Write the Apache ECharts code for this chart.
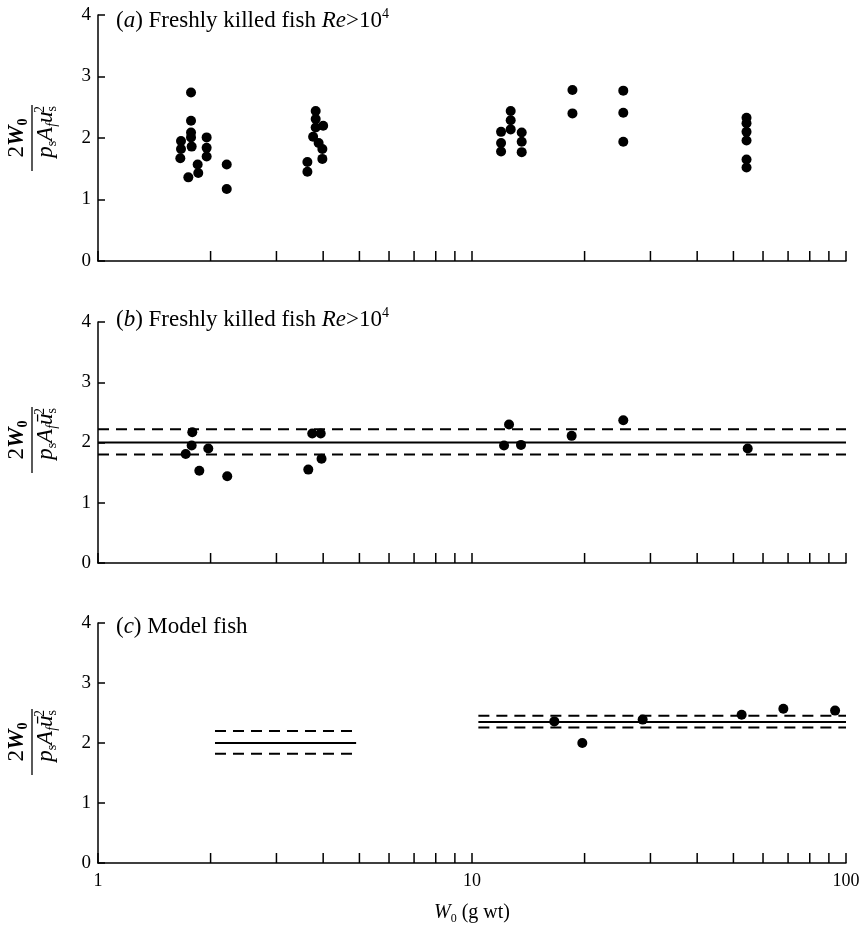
<!DOCTYPE html>
<html>
<head>
<meta charset="utf-8">
<script src="https://cdn.jsdelivr.net/npm/echarts@6/dist/echarts.min.js"></script>
<style>
  html, body { margin: 0; padding: 0; background: #fff; }
  #chart { width: 864px; height: 931px; }
</style>
</head>
<body>
<div id="chart"></div>
<script>
// (a) freshly killed fish, raw points
const aWeight = [1.773, 1.773, 1.773, 1.773, 1.78, 1.667, 1.667, 1.66, 1.744, 1.847, 1.854, 1.952, 1.952, 1.952, 2.209, 2.209,
  3.63, 3.63, 3.82, 3.82, 3.82, 4.0, 3.76, 3.89, 3.98, 3.98,
  11.96, 11.96, 11.96, 12.69, 12.69, 12.69, 13.58, 13.58, 13.58,
  18.56, 18.56, 25.38, 25.38, 25.38,
  54.2, 54.2, 54.2, 54.2, 54.2, 54.2];
const aRatio = [2.74, 2.28, 2.09, 2.01, 1.86, 1.95, 1.82, 1.67, 1.36, 1.57, 1.43, 2.01, 1.84, 1.70, 1.57, 1.17,
  1.61, 1.45, 2.44, 2.31, 2.17, 2.20, 2.02, 1.92, 1.82, 1.66,
  2.10, 1.92, 1.78, 2.44, 2.29, 2.14, 2.09, 1.94, 1.77,
  2.78, 2.40, 2.77, 2.41, 1.94,
  2.33, 2.24, 2.10, 1.96, 1.65, 1.52];

// (b) freshly killed fish, mean values
const bWeight = [1.716, 1.787, 1.78, 1.866, 1.972, 2.216, 3.65, 3.74, 3.94, 3.96, 12.56, 12.18, 13.52, 18.47, 25.38, 54.6];
const bRatio = [1.81, 2.17, 1.95, 1.53, 1.90, 1.44, 1.55, 2.15, 2.15, 1.73, 2.30, 1.95, 1.96, 2.11, 2.37, 1.90];
const bFitRange = [1, 100];
const bFitLevels = [2.22, 2.0, 1.8]; // upper, mean, lower

// (c) model fish
const cWeight = [16.6, 19.72, 28.6, 52.6, 68.0, 93.5];
const cRatio = [2.36, 2.00, 2.39, 2.47, 2.57, 2.54];
const cLeftRange = [2.055, 4.9];
const cLeftLevels = [2.2, 2.0, 1.82];
const cRightRange = [10.4, 100];
const cRightLevels = [2.455, 2.35, 2.26];

const xTickLabels = [1, 10, 100];
const minorTicks = [2, 3, 4, 5, 6, 7, 8, 9, 20, 30, 40, 50, 60, 70, 80, 90];

const serif = "'Liberation Serif', 'Times New Roman', serif";
const chart = echarts.init(document.getElementById('chart'));

const pts = (xs, ys) => xs.map((x, i) => [x, ys[i]]);
const level = (range, y) => range.map(x => [x, y]);

const grids = [
  { left: 98, width: 748, top: 15, height: 246 },
  { left: 98, width: 748, top: 322, height: 241 },
  { left: 98, width: 748, top: 623, height: 240 }
];

const xAxes = grids.map((g, i) => ({
  type: 'log', logBase: 10, min: 1, max: 100, gridIndex: i,
  axisLine: { show: true, onZero: false, lineStyle: { color: '#000', width: 1.5 } },
  axisTick: { show: true, inside: true, length: 10, lineStyle: { color: '#000', width: 1.5 } },
  axisLabel: {
    show: i === 2, margin: 9, color: '#000', fontSize: 18, fontFamily: serif,
    formatter: v => (xTickLabels.indexOf(Math.round(v)) >= 0 ? String(Math.round(v)) : '')
  },
  splitLine: { show: false },
  name: i === 2 ? '{i|W}{sub|0}{n| (g wt)}' : '',
  nameLocation: 'middle', nameGap: 38,
  nameTextStyle: {
    rich: {
      i: { fontFamily: serif, fontStyle: 'italic', fontSize: 20, color: '#000', lineHeight: 24 },
      n: { fontFamily: serif, fontSize: 20, color: '#000', lineHeight: 24 },
      sub: { fontFamily: serif, fontSize: 12, color: '#000', lineHeight: 12, verticalAlign: 'bottom' }
    }
  }
}));

const yAxes = grids.map((g, i) => ({
  type: 'value', min: 0, max: 4, interval: 1, gridIndex: i,
  axisLine: { show: true, lineStyle: { color: '#000', width: 1.5 } },
  axisTick: { show: true, inside: true, length: 7, lineStyle: { color: '#000', width: 1.5 } },
  axisLabel: { margin: 7, color: '#000', fontSize: 19, fontFamily: serif },
  splitLine: { show: false }
}));

function tickSeries(i) {
  return {
    type: 'custom', xAxisIndex: i, yAxisIndex: i, silent: true, clip: false,
    data: minorTicks.map(v => [v, 0]),
    renderItem: (params, api) => {
      const p = api.coord([api.value(0), 0]);
      return {
        type: 'line',
        shape: { x1: p[0], y1: p[1], x2: p[0], y2: p[1] - 10 },
        style: { stroke: '#000', lineWidth: 1.5 }
      };
    }
  };
}

function scatter(i, data) {
  return {
    type: 'scatter', xAxisIndex: i, yAxisIndex: i, data: data,
    symbol: 'circle', symbolSize: 10, itemStyle: { color: '#000', opacity: 1 }, silent: true
  };
}

function fitLines(i, range, levels) {
  return levels.map((y, k) => ({
    type: 'line', xAxisIndex: i, yAxisIndex: i, data: level(range, y),
    symbol: 'none', silent: true,
    lineStyle: { color: '#000', width: 2, type: k === 1 ? 'solid' : [11, 7] }
  }));
}

const fracRich = {
  n: { fontFamily: serif, fontSize: 23, color: '#000', lineHeight: 26 },
  i: { fontFamily: serif, fontSize: 23, fontStyle: 'italic', color: '#000', lineHeight: 26 },
  ib: { fontFamily: serif, fontSize: 23, fontStyle: 'italic', fontWeight: 'bold', color: '#000', lineHeight: 26 },
  sub: { fontFamily: serif, fontSize: 14, color: '#000', lineHeight: 13, verticalAlign: 'bottom' },
  subb: { fontFamily: serif, fontSize: 14, fontWeight: 'bold', color: '#000', lineHeight: 13, verticalAlign: 'bottom' },
  subi: { fontFamily: serif, fontSize: 14, fontStyle: 'italic', color: '#000', lineHeight: 13, verticalAlign: 'bottom' },
  sup: { fontFamily: serif, fontSize: 14, color: '#000', lineHeight: 13, verticalAlign: 'top' }
};

function fraction(cx, cy, u) {
  return {
    type: 'group', x: cx, y: cy, rotation: Math.PI / 2,
    children: [
      { type: 'text', x: 0, y: -2, style: { text: '{n|2}{ib|W}{subb|0}', rich: fracRich, align: 'center', verticalAlign: 'bottom' } },
      { type: 'line', shape: { x1: -33, y1: 0, x2: 33, y2: 0 }, style: { stroke: '#000', lineWidth: 1.3 } },
      { type: 'text', x: 32, y: 1, style: { text: '{i|p}{sub|s}{i|A}{subi|f}{i|' + u + '}{sub|s}', rich: fracRich, align: 'right', verticalAlign: 'top' } },
      { type: 'text', x: 32, y: 1, style: { text: '{sup|2}', rich: fracRich, align: 'right', verticalAlign: 'top' } }
    ]
  };
}

const titleRich = {
  n: { fontFamily: serif, fontSize: 23, color: '#000', lineHeight: 28 },
  i: { fontFamily: serif, fontSize: 23, fontStyle: 'italic', color: '#000', lineHeight: 28 },
  sup: { fontFamily: serif, fontSize: 14, color: '#000', lineHeight: 14, verticalAlign: 'top' }
};

function title(y, letter, tail) {
  return {
    type: 'text', x: 116, y: y,
    style: { text: '{n|(}{i|' + letter + '}{n|) ' + tail, rich: titleRich, align: 'left', verticalAlign: 'middle' }
  };
}

const option = {
  animation: false,
  backgroundColor: '#fff',
  grid: grids,
  xAxis: xAxes,
  yAxis: yAxes,
  series: [
    tickSeries(0), tickSeries(1), tickSeries(2),
    scatter(0, pts(aWeight, aRatio)),
    ...fitLines(1, bFitRange, bFitLevels),
    scatter(1, pts(bWeight, bRatio)),
    ...fitLines(2, cLeftRange, cLeftLevels),
    ...fitLines(2, cRightRange, cRightLevels),
    scatter(2, pts(cWeight, cRatio))
  ],
  graphic: [
    title(21, 'a', 'Freshly killed fish }{i|Re}{n|>10}{sup|4}'),
    title(320, 'b', 'Freshly killed fish }{i|Re}{n|>10}{sup|4}'),
    title(627, 'c', 'Model fish}'),
    fraction(32, 138, 'u'),
    fraction(32, 440, 'ū'),
    fraction(32, 742, 'ū')
  ]
};

chart.setOption(option);
</script>
</body>
</html>
